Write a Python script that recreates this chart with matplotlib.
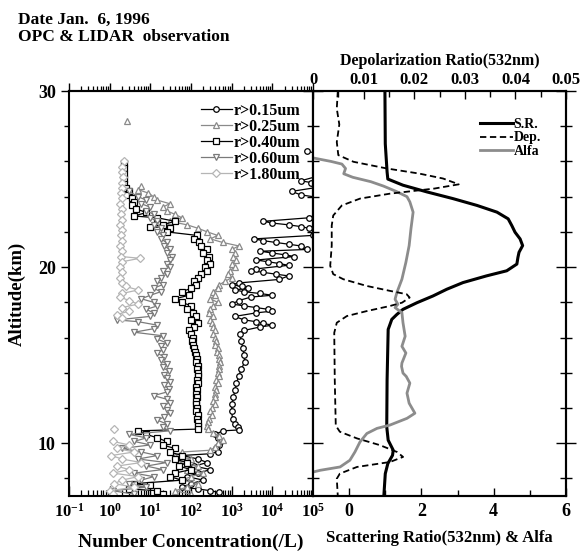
import numpy as np
import matplotlib
matplotlib.use('Agg')
import matplotlib.pyplot as plt
from matplotlib.ticker import FixedLocator, LogLocator, NullFormatter

plt.rcParams['font.family'] = 'Liberation Serif'
plt.rcParams['font.weight'] = 'bold'
plt.rcParams['axes.labelweight'] = 'bold'
plt.rcParams['mathtext.fontset'] = 'custom'
plt.rcParams['mathtext.rm'] = 'Liberation Serif:weight=bold'
plt.rcParams['mathtext.it'] = 'Liberation Serif:weight=bold'
plt.rcParams['mathtext.default'] = 'rm'
nan = np.nan

# ---- OPC number concentration (/L) ----
alt_015 = [26.6, 26.3, 26.0, 25.7, 25.5, 25.2, 24.9, 24.8, 24.6, 24.3, 24.1, 23.9, 23.5, 23.1,
           22.8, 22.6, 22.5, 22.4, 22.3, 22.2, 22.0, 21.8, 21.6, 21.5, 21.4, 21.3, 21.2, 21.0,
           20.9, 20.8, 20.7, 20.6, 20.4, 20.3, 20.2, 20.1, 19.9, 19.8, 19.7, 19.6, 19.5, 19.3,
           19.1, 19.0, 18.9, 18.8, 18.7, 18.6, 18.5, 18.4, 18.3, 18.1, 17.9, 17.8, 17.7, 17.6,
           17.5, 17.4, 17.2, 17.0, 16.9, 16.8, 16.7, 16.6, 16.4, 16.2, 15.8, 15.4, 15.0, 14.6,
           14.2, 13.8, 13.4, 13.0, 12.6, 12.2, 11.8, 11.4, 11.1, 10.9, 10.75, 10.7, 10.5, 10.3,
           10.1, 9.9, 9.7, 9.5, 9.4, 9.3, 9.1, 8.9, 8.7, 8.5, 8.3, 8.1, 7.9, 7.7, 7.5, 7.4, 7.3, 7.2]
n_015 = [7e4, 2e5, 2e5, 1.5e5, 2e5, 1.5e5, 5e4, 9e4, 2e5, 3e4, 5e4, 2e5, 2e5, 1.5e5,
         8e4, 6e3, 1e4, 2.5e4, 5e4, 8e4, 1.5e5, 1e5, 3.5e3, 6e3, 1.2e4, 2.5e4, 5e4, 7e4,
         5e3, 1e4, 2e4, 3.5e4, 4e3, 8e3, 1.5e4, 2.5e4, 4e3, 3e3, 6e3, 1.2e4, 2.5e4, 1.5e4,
         1.5e3, 1e3, 1.8e3, 2.5e3, 1.2e3, 2e3, 5e3, 1e4, 3e3, 1.5e3, 1e3, 2e3, 4e3, 8e3,
         1e4, 4e3, 1.2e3, 2e3, 4e3, 6e3, 1e4, 5e3, 2e3, 1.6e3, 1.7e3, 1.9e3, 2e3, 2.1e3,
         1.7e3, 1.5e3, 1.3e3, 1.2e3, 1.1e3, 1e3, 1e3, 1.05e3, 1.2e3, 1.4e3, 1.5e3, 600, 400, 450,
         550, 500, 420, 450, 300, 60, 150, 250, 120, 300, 150, 80, 200, 100, 60, 150, 300, 500]

alt_025 = [28.3, 28.2, 24.6, 24.4, 24.2, 24.0, 23.8, 23.6, 23.4, 23.2, 23.0, 22.8, 22.6, 22.4,
           22.2, 22.0, 21.8, 21.6, 21.4, 21.2, 21.0, 20.8, 20.6, 20.4, 20.2, 20.0, 19.8, 19.6,
           19.4, 19.2, 19.0, 18.8, 18.6, 18.4, 18.2, 18.0, 17.8, 17.6, 17.4, 17.2, 17.0, 16.8,
           16.6, 16.4, 16.2, 16.0, 15.8, 15.6, 15.4, 15.2, 15.0, 14.8, 14.6, 14.4, 14.2, 14.0,
           13.8, 13.6, 13.4, 13.2, 13.0, 12.8, 12.6, 12.4, 12.2, 12.0, 11.8, 11.6, 11.4, 11.2,
           11.0, 10.8, 10.6, 10.4, 10.2, 10.0, 9.8, 9.6, 9.5, 9.3, 9.1, 8.9, 8.7, 8.5, 8.3, 8.1,
           7.9, 7.7, 7.5, 7.3, 7.1]
n_025 = [2.7, nan, 6, 5, 9, 12, 15, 30, 20, 25, 40, 60, 30, 80,
         150, 250, 450, 300, 600, 1500, 1000, 1200, 1100, 1300, 1000, 1200, 900, 800,
         1000, 700, 500, 450, 350, 400, 300, 450, 350, 300, 280, 350, 300, 330,
         350, 380, 350, 400, 420, 400, 450, 430, 480, 500, 520, 480, 500, 450,
         480, 420, 450, 400, 420, 380, 400, 350, 380, 330, 300, 320, 280, 260,
         250, 260, 350, 500, 600, 450, 400, 300, 60, 40, 100, 50, 150, 80, 200, 100,
         60, 150, 80, 40, 100]

alt_040 = [25.9, 25.6, 25.3, 25.0, 24.7, 24.5, 24.3, 24.1, 23.9, 23.7, 23.5, 23.3, 23.1, 22.9,
           22.8, 22.6, 22.4, 22.3, 22.2, 22.0, 21.8, 21.6, 21.4, 21.2, 21.0, 20.8, 20.6, 20.4,
           20.2, 20.0, 19.8, 19.6, 19.4, 19.2, 19.0, 18.8, 18.6, 18.4, 18.2, 18.0, 17.8, 17.6,
           17.4, 17.2, 17.0, 16.8, 16.6, 16.4, 16.2, 16.0, 15.8, 15.6, 15.4, 15.2, 15.0, 14.8,
           14.6, 14.4, 14.2, 14.0, 13.8, 13.6, 13.4, 13.2, 13.0, 12.8, 12.6, 12.4, 12.2, 12.0,
           11.8, 11.6, 11.4, 11.2, 11.0, 10.8, 10.7, 10.5, 10.3, 10.1, 9.9, 9.7, 9.5, 9.3,
           9.1, 8.9, 8.7, 8.5, 8.3, 8.1, 7.9, 7.7, 7.6, 7.4, 7.3, 7.1]
n_040 = [2.2, 2.3, 2.2, 2.3, 2.2, 2.5, 3.0, 2.5, 3.5, 4, 3.5, 4.5, 8, 4,
         15, 40, 20, 10, 30, 25, 140, 120, 160, 180, 250, 200, 280, 250,
         300, 220, 250, 180, 150, 120, 130, 100, 60, 90, 40, 60, 100, 80,
         110, 130, 100, 150, 120, 90, 100, 110, 105, 115, 120, 125, 130, 140,
         135, 145, 140, 150, 145, 140, 150, 135, 140, 130, 140, 135, 130, 140,
         135, 145, 140, 150, 145, 150, 5, 8, 15, 25, 20, 40, 30, 60,
         40, 80, 50, 100, 40, 30, 60, 4, 10, 3, 15, 20]

alt_060 = [24.3, 24.0, 23.8, 23.6, 23.4, 23.2, 23.0, 22.8, 22.6, 22.4, 22.2, 22.0, 21.8, 21.6,
           21.4, 21.2, 21.0, 20.8, 20.6, 20.4, 20.2, 20.0, 19.8, 19.6, 19.4, 19.2, 19.0, 18.8,
           18.6, 18.4, 18.2, 18.0, 17.8, 17.6, 17.4, 17.2, 17.0, 16.9, 16.7, 16.5, 16.3, 16.1,
           15.9, 15.7, 15.5, 15.3, 15.1, 14.9, 14.7, 14.5, 14.3, 14.1, 13.9, 13.7, 13.5, 13.3,
           13.1, 12.9, 12.7, 12.5, 12.3, 12.1, 11.9, 11.7, 11.5, 11.3, 11.1, 10.9, 10.7, 10.5,
           10.3, 10.1, 9.9, 9.7, 9.5, 9.3, 9.1, 8.9, 8.7, 8.5, 8.3, 8.1, 7.9, 7.7, 7.5, 7.3, 7.1]
n_060 = [3, 5, 8, 6, 10, 8, 12, 10, 15, 12, 18, 15, 20, 18,
         25, 22, 30, 25, 35, 30, 25, 30, 20, 25, 18, 15, 20, 12,
         18, 10, 6, 12, 15, 8, 12, 10, 1.5, 5, 15, 12, 4, 20,
         15, 25, 18, 20, 15, 22, 18, 25, 20, 28, 22, 25, 30, 22,
         28, 25, 12, 25, 30, 20, 25, 30, 22, 15, 25, 20, 30, 3,
         8, 4, 10, 2, 6, 15, 5, 25, 8, 20, 4, 12, 6, 3, 8, 1.2, 4]

alt_180 = [26.0, 25.7, 25.4, 25.1, 24.8, 24.5, 24.2, 23.9, 23.6, 23.3, 23.0, 22.7, 22.4, 22.1,
           21.8, 21.5, 21.2, 20.9, 20.6, 20.5, 20.3, 20.0, 19.7, 19.4, 19.1, 18.9, 18.7, 18.5,
           18.3, 18.1, 17.9, 17.7, 17.5, 17.3, 17.1, 17.0, 10.8, 10.7, 10.1, 9.9, 9.7, 9.5,
           9.3, 9.1, 8.9, 8.7, 8.5, 8.3, 8.1, 7.9, 7.7, 7.5, 7.3, 7.1]
n_180 = [2.2, 2, 2, 2.1, 2, 2, 1.9, 2, 1.8, 2, 1.9, 2, 1.8, 2,
         1.9, 2, 1.8, 2, 1.9, 5.5, 2, 1.8, 2, 1.8, 2, 2.5, 5, 2,
         1.8, 3, 5, 2, 3, 1.5, 2, nan, 1.3, nan, 1.2, 3, 1.5, 4,
         1.1, 2, 6, 1.5, 3, 1.2, 5, 2, 1.3, 4, 1.0, 1.2]

# ---- LIDAR ----
alt_sr = [30.0, 27.0, 25.4, 25.0, 24.65, 24.27, 23.89, 23.5, 23.12, 22.74, 22.36, 21.98, 21.6,
          21.22, 20.84, 20.55, 20.17, 19.79, 19.5, 19.12, 18.74, 18.36, 17.98, 17.6, 17.31,
          17.03, 16.46, 13.6, 10.93, 10.17, 9.6, 9.31, 8.84, 8.27, 7.0]
sr = [0.99, 1.0, 1.05, 1.07, 1.49, 2.15, 2.87, 3.54, 4.09, 4.4, 4.5, 4.59, 4.73,
      4.8, 4.7, 4.67, 4.64, 4.36, 3.8, 3.15, 2.7, 2.32, 1.88, 1.49, 1.32,
      1.18, 1.08, 1.05, 1.04, 1.08, 1.22, 1.2, 1.07, 1.0, 0.96]

alt_dep = [30.0, 29.0, 28.1, 27.1, 26.36, 25.98, 25.6, 25.31, 25.03, 24.7, 24.46, 24.17, 23.89,
           23.5, 22.93, 22.36, 21.22, 20.07, 19.6, 19.31, 18.93, 18.65, 18.46, 18.27, 17.98,
           17.79, 17.5, 17.22, 16.84, 16.27, 13.6, 11.0, 10.65, 10.27, 9.89, 9.5, 9.22, 8.93,
           8.65, 8.27, 7.98, 7.0]
dep = [0.0049, 0.0047, 0.0052, 0.0047, 0.005, 0.008, 0.0146, 0.021, 0.0257, 0.0288, 0.024,
       0.0152, 0.0093, 0.0057, 0.004, 0.0037, 0.0037, 0.0034, 0.004, 0.006, 0.0106, 0.0152,
       0.0185, 0.0191, 0.0176, 0.0152, 0.0106, 0.0067, 0.0047, 0.0042, 0.0043, 0.0045, 0.0053,
       0.0087, 0.0132, 0.0166, 0.0178, 0.0152, 0.0087, 0.0053, 0.0047, 0.0049]

alt_alfa = [26.2, 26.0, 25.85, 25.6, 25.3, 25.1, 24.85, 24.6, 24.3, 24.0, 23.7, 23.12, 22.17,
            21.22, 20.27, 19.31, 18.55, 18.17, 17.89, 17.7, 17.41, 16.84, 16.07, 15.5, 15.12,
            14.55, 14.36, 13.98, 13.79, 13.41, 12.84, 12.27, 11.7, 11.41, 11.03, 10.84, 10.55,
            10.07, 9.5, 9.03, 8.65, 8.46, 8.36]
alfa = [-1.0, -0.5, -0.2, -0.1, -0.15, 0.1, 0.6, 0.95, 1.3, 1.6, 1.68, 1.77, 1.71,
        1.66, 1.57, 1.46, 1.32, 1.27, 1.35, 1.27, 1.46, 1.49, 1.55, 1.46, 1.57,
        1.46, 1.45, 1.49, 1.58, 1.68, 1.6, 1.66, 1.82, 1.6, 1.13, 0.77, 0.49,
        0.3, 0.16, 0.02, -0.25, -0.8, -1.0]

fig = plt.figure(figsize=(5.84, 5.54), dpi=100)
bot = 1 - 496 / 554
hgt = 405 / 554
ax1 = fig.add_axes([69 / 584, bot, 244 / 584, hgt])
ax2 = fig.add_axes([313 / 584, bot, 253 / 584, hgt])
ax3 = ax2.twiny()

series = [
    (alt_015, n_015, 'r>0.15um', 'black', 'o'),
    (alt_025, n_025, 'r>0.25um', '#8a8a8a', '^'),
    (alt_040, n_040, 'r>0.40um', 'black', 's'),
    (alt_060, n_060, 'r>0.60um', '#7a7a7a', 'v'),
    (alt_180, n_180, 'r>1.80um', '#b5b5b5', 'D'),
]
for a, n, lab, c, m in series:
    ax1.plot(n, a, color=c, marker=m, ms=4.0 if m != 'D' else 3.6, mfc='white',
             mec=c, mew=0.9, lw=0.9, label=lab)

ax1.set_xscale('log')
ax1.set_xlim(1e-1, 1e5)
ax1.set_ylim(7, 30)
ax1.set_xticks([1e-1, 1, 10, 1e2, 1e3, 1e4, 1e5])
ax1.set_xticklabels(['$10^{-1}$', '$10^{0}$', '$10^{1}$', '$10^{2}$', '$10^{3}$', '$10^{4}$',
                     '$10^{5}$'], fontsize=12)
ax1.xaxis.set_minor_locator(LogLocator(base=10, subs=np.arange(2, 10), numticks=20))
ax1.xaxis.set_minor_formatter(NullFormatter())
ax1.tick_params(axis='x', which='major', direction='in', length=7, width=1, pad=5)
ax1.tick_params(axis='x', which='minor', direction='in', length=4, width=0.9)
top1 = ax1.secondary_xaxis('top')
top1.set_xticks([1e-1, 1, 10, 1e2, 1e3, 1e4, 1e5])
top1.xaxis.set_minor_locator(LogLocator(base=10, subs=np.arange(2, 10), numticks=20))
top1.xaxis.set_minor_formatter(NullFormatter())
top1.tick_params(axis='x', which='major', direction='out', length=6, width=1, labeltop=False)
top1.tick_params(axis='x', which='minor', direction='out', length=3.5, width=0.9)
top1.spines['top'].set_linewidth(1.5)
ax1.set_yticks([10, 20, 30])
ax1.set_yticks(np.arange(8, 30, 2), minor=True)
ax1.tick_params(axis='y', which='major', direction='out', length=6, width=1, labelsize=13)
ax1.tick_params(axis='y', which='minor', direction='out', length=3.5, width=1)
ax1.set_ylabel('Altitude(km)', fontsize=13.5, labelpad=9)
ax1.set_xlabel('Number Concentration(/L)', fontsize=14, labelpad=9)
for s in ax1.spines.values():
    s.set_linewidth(1.5)
ax1.legend(loc='upper right', bbox_to_anchor=((300 - 69) / 244, 1 - 12 / 405), frameon=False,
           fontsize=11.5, handlelength=2.0, handletextpad=0.05, labelspacing=0.0,
           borderaxespad=0, borderpad=0)

ax2.plot(sr, alt_sr, color='black', lw=2.2, label='S.R.')
ax3.plot(dep, alt_dep, color='black', lw=1.3, ls=(0, (3.5, 2)), label='Dep.')
ax2.plot(alfa, alt_alfa, color='#8c8c8c', lw=2.0, label='Alfa')
ax2.set_xlim(-1, 6)
ax2.set_ylim(7, 30)
ax3.set_xlim(0, 0.05)
ax2.xaxis.set_major_locator(FixedLocator([0, 2, 4, 6]))
ax2.xaxis.set_minor_locator(FixedLocator([1, 3, 5]))
ax2.tick_params(axis='x', which='major', direction='in', length=6, width=1, labelsize=13,
                pad=5)
ax2.tick_params(axis='x', which='minor', direction='in', length=4, width=1)
ax2.set_xlabel('Scattering Ratio(532nm) & Alfa', fontsize=12, labelpad=7)
ax2.set_yticks([10, 20, 30])
ax2.set_yticks(np.arange(8, 30, 2), minor=True)
ax2.tick_params(axis='y', which='major', direction='inout', length=15, width=1,
                left=True, right=True, labelleft=False)
ax2.tick_params(axis='y', which='minor', direction='inout', length=8, width=1,
                left=True, right=True)
ax3.set_xticks([0, 0.01, 0.02, 0.03, 0.04, 0.05])
ax3.set_xticklabels(['0', '0.01', '0.02', '0.03', '0.04', '0.05'])
ax3.set_xticks(np.arange(0.005, 0.05, 0.01), minor=True)
ax3.tick_params(axis='x', which='major', direction='in', length=6, width=1, labelsize=12,
                pad=2)
ax3.tick_params(axis='x', which='minor', direction='in', length=4, width=1)
ax3.set_xlabel('Depolarization Ratio(532nm)', fontsize=11.5, labelpad=5)
for a in (ax2, ax3):
    for s in a.spines.values():
        s.set_linewidth(1.5)

h2, l2 = ax2.get_legend_handles_labels()
h3, l3 = ax3.get_legend_handles_labels()
ax2.legend([h2[0], h3[0], h2[1]], [l2[0], l3[0], l2[1]], loc='upper right',
           bbox_to_anchor=(0.95, 0.965), frameon=False, fontsize=10, handlelength=2.4,
           handletextpad=0.0, labelspacing=0.05)

fig.text(18 / 584, 1 - 20 / 554, 'Date Jan.  6, 1996', fontsize=12.5, va='center')
fig.text(18 / 584, 1 - 37 / 554, 'OPC & LIDAR  observation', fontsize=12.5, va='center')

fig.savefig('out.png', dpi=100)
